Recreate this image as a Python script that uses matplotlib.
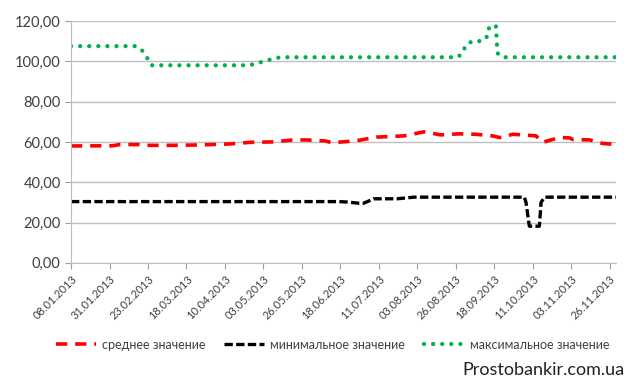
import matplotlib
matplotlib.use("Agg")
import matplotlib.pyplot as plt
import matplotlib.dates as mdates
import numpy as np
from datetime import datetime, timedelta
from matplotlib.ticker import FuncFormatter

plt.rcParams['font.family'] = ['Lato', 'DejaVu Sans']

start = datetime(2013, 1, 8)

# day offsets from 08.01.2013 and values
avg_days = [0, 25, 29, 40, 44, 60, 77, 95, 107, 120, 132, 140, 152, 156, 165, 172, 183,
            199, 211, 221, 227, 232, 242, 252, 256, 258, 264, 275, 278, 282, 292, 298, 300, 310, 318, 326]
avg_vals = [58.0, 58.1, 58.7, 58.7, 58.3, 58.3, 58.5, 59.0, 59.8, 60.0, 60.9, 61.0, 60.5, 59.6,
            60.2, 60.8, 62.4, 63.0, 65.0, 63.5, 63.8, 64.0, 63.8, 63.0, 62.2, 62.3, 63.8, 63.2,
            63.0, 59.8, 62.2, 62.0, 61.2, 61.0, 59.2, 58.8]

min_days = [0, 160, 165, 172, 175, 181, 195, 205, 271, 272, 274, 280, 281, 283, 326]
min_vals = [30.4, 30.4, 30.2, 29.6, 29.6, 31.8, 31.8, 32.6, 32.6, 30.0, 18.2, 18.2, 30.0, 32.6, 32.6]

max_days = [0, 39, 43, 46, 48, 104, 110, 115, 120, 125, 231, 234, 236, 240, 246, 249, 250,
            254, 254.5, 255, 258, 326]
max_vals = [107.5, 107.5, 105.0, 101.0, 98.0, 98.0, 98.5, 100.0, 101.0, 102.0, 102.0, 104.0,
            108.0, 110.0, 110.0, 112.5, 117.0, 117.7, 110.0, 104.0, 102.0, 102.0]

tick_days = list(range(0, 323, 23))

def to_dates(days):
    return [start + timedelta(days=d) for d in days]

fig = plt.figure(figsize=(6.4, 3.81), dpi=100)
ax = fig.add_axes([0.111, 0.31, 0.852, 0.635])

l1, = ax.plot(to_dates(avg_days), avg_vals, color='#FF0000', lw=2.6,
              linestyle=(0, (3.1, 2.2)), label='среднее значение')
l2, = ax.plot(to_dates(min_days), min_vals, color='black', lw=2.4,
              linestyle=(0, (2.5, 1.0)), label='минимальное значение')
l3, = ax.plot(to_dates(max_days), max_vals, color='#00B050', lw=3.1,
              linestyle=(0, (0.01, 2.1)), dash_capstyle='round', label='максимальное значение')

ax.set_xlim(start, start + timedelta(days=326))
ax.set_ylim(0, 120)
ax.set_yticks(np.arange(0, 121, 20))
ax.yaxis.set_major_formatter(FuncFormatter(lambda v, p: f"{v:.2f}".replace('.', ',')))
ax.set_xticks(to_dates(tick_days))
ax.xaxis.set_major_formatter(mdates.DateFormatter('%d.%m.%Y'))
for lab in ax.get_xticklabels():
    lab.set_rotation(45)
    lab.set_ha('right')
    lab.set_rotation_mode('anchor')
    lab.set_fontsize(8)
for lab in ax.get_yticklabels():
    lab.set_fontsize(10.5)
    lab.set_color('#404040')
ax.tick_params(axis='x', colors='#404040', length=4, color='#A0A0A0')
ax.tick_params(axis='y', colors='#404040', length=4, color='#A0A0A0')

ax.grid(axis='y', color='#BFBFBF', lw=1)
ax.set_axisbelow(True)
for s in ['top', 'right']:
    ax.spines[s].set_visible(False)
ax.spines['left'].set_color('#BFBFBF')
ax.spines['bottom'].set_color('#BFBFBF')

fig.legend(handles=[l1, l2, l3], loc='center', bbox_to_anchor=(0.52, 0.095), ncol=3,
           frameon=False, fontsize=9, handlelength=3.2, columnspacing=1.5, handletextpad=0.5,
           labelcolor='#404040')

fig.text(0.975, 0.03, 'Prostobankir.com.ua', ha='right', va='center', fontsize=13, color='#222222')

fig.savefig('out.png', dpi=100)
